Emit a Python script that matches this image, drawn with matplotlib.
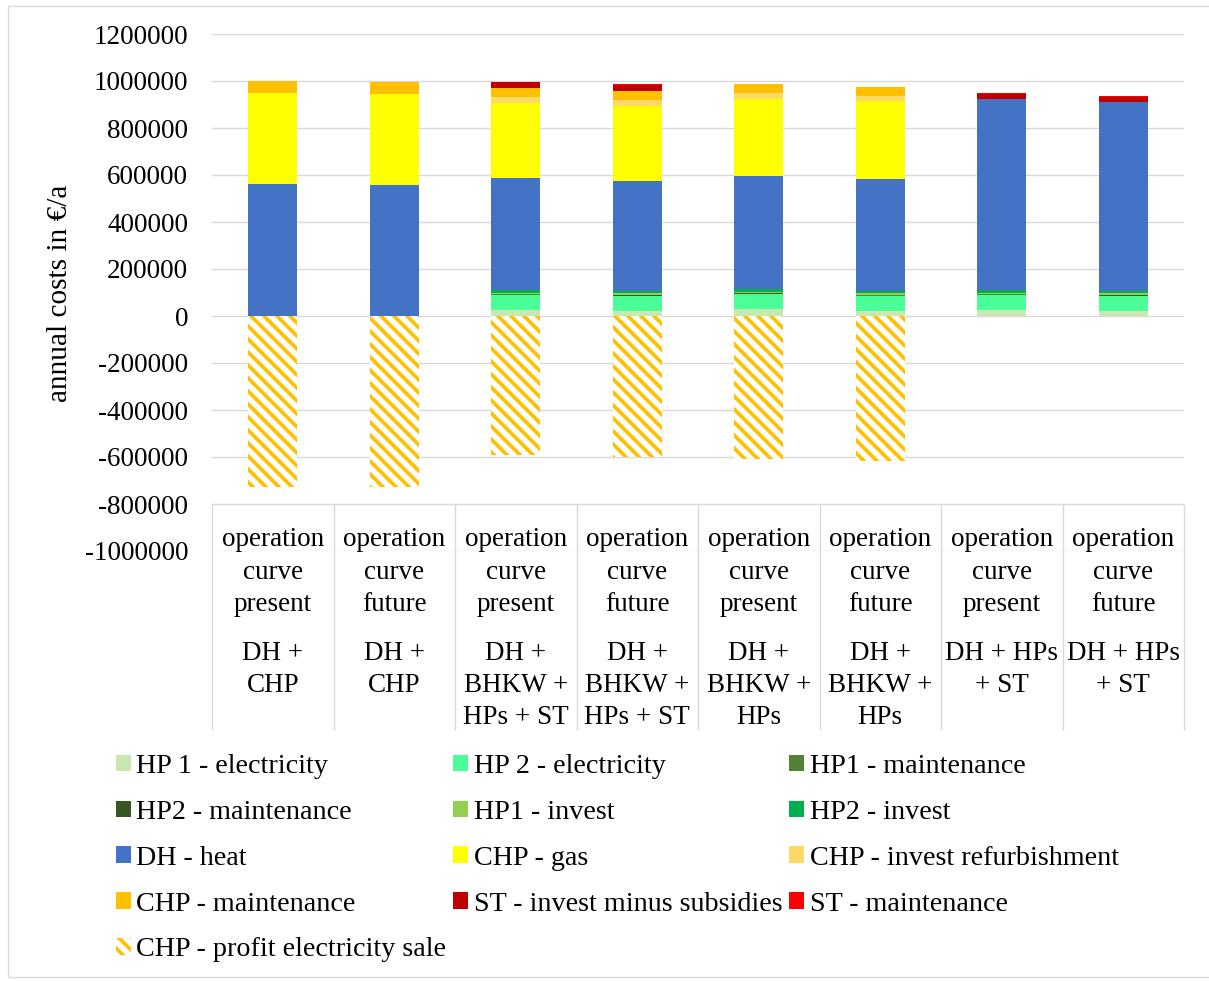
import matplotlib.pyplot as plt
from matplotlib.patches import Rectangle
import numpy as np

# scenario labels: operating curve (upper block) and plant system (lower block)
curves = ["operation\ncurve\npresent", "operation\ncurve\nfuture"] * 4
systems = ["DH +\nCHP", "DH +\nCHP",
           "DH +\nBHKW +\nHPs + ST", "DH +\nBHKW +\nHPs + ST",
           "DH +\nBHKW +\nHPs", "DH +\nBHKW +\nHPs",
           "DH + HPs\n+ ST", "DH + HPs\n+ ST"]

# annual cost components in EUR/a
hp1_electricity = [0, 0, 25500, 21000, 30000, 21000, 25500, 21000]
hp2_electricity = [0, 0, 64000, 64000, 63000, 65000, 64000, 64000]
hp1_maintenance = [0, 0, 2000, 2000, 2000, 2000, 2000, 2000]
hp2_maintenance = [0, 0, 2000, 2000, 2000, 2000, 2000, 2000]
hp1_invest = [0, 0, 5000, 9000, 5000, 9000, 5000, 9000]
hp2_invest = [0, 0, 12000, 7000, 12000, 7000, 12000, 7000]
dh_heat = [560000, 557000, 476000, 469000, 483000, 478000, 811000, 804000]
chp_gas = [388000, 387000, 321000, 321000, 325000, 330000, 0, 0]
chp_refurbishment = [0, 0, 25500, 24000, 25500, 22500, 0, 0]
chp_maintenance = [50000, 53000, 36000, 40000, 40000, 40000, 0, 0]
st_invest = [0, 0, 26000, 25000, 0, 0, 24000, 25000]
st_maintenance = [0, 0, 2000, 2000, 0, 0, 2000, 2000]
chp_profit = [-726000, -728000, -591000, -598000, -610000, -616000, 0, 0]

series = [
    ("HP 1 - electricity", hp1_electricity, "#C9E7B1"),
    ("HP 2 - electricity", hp2_electricity, "#4BFF98"),
    ("HP1 - maintenance", hp1_maintenance, "#548235"),
    ("HP2 - maintenance", hp2_maintenance, "#375623"),
    ("HP1 - invest", hp1_invest, "#92D050"),
    ("HP2 - invest", hp2_invest, "#00B050"),
    ("DH - heat", dh_heat, "#4472C4"),
    ("CHP - gas", chp_gas, "#FFFF00"),
    ("CHP - invest refurbishment", chp_refurbishment, "#FFD966"),
    ("CHP - maintenance", chp_maintenance, "#FFC000"),
    ("ST - invest minus subsidies", st_invest, "#C00000"),
    ("ST - maintenance", st_maintenance, "#FF0000"),
]

W, H, DPI = 1209, 981, 78
plt.rcParams['font.family'] = ['Liberation Serif', 'DejaVu Serif']
plt.rcParams['hatch.linewidth'] = 3.4
FS = 25

fig = plt.figure(figsize=(W / DPI, H / DPI), dpi=DPI)
ax = fig.add_axes([212 / W, 1 - 551 / H, (1184 - 212) / W, (551 - 34) / H])

x = np.arange(len(curves))
width = 0.4
bottom = np.zeros(len(x))
handles = []
for name, vals, color in series:
    vals = np.array(vals, dtype=float)
    h = ax.bar(x, vals, width, bottom=bottom, color=color, label=name, zorder=3)
    bottom += vals
    handles.append(h)

h = ax.bar(x, chp_profit, width, facecolor="white", edgecolor="#FFC000",
           linewidth=0, hatch="\\\\", label="CHP - profit electricity sale", zorder=3)
handles.append(h)

ax.set_xlim(-0.5, len(x) - 0.5)
ax.set_ylim(-1000000, 1200000)
ticks = np.arange(-1000000, 1200001, 200000)
ax.set_yticks(ticks)
ax.set_yticklabels([str(t) for t in ticks], fontsize=FS)
ax.tick_params(axis="y", length=0, pad=22)
ax.set_xticks([])
for s in ax.spines.values():
    s.set_visible(False)
for t in ticks:
    ax.axhline(t, color="#D9D9D9", lw=1.3, zorder=1)

# category table below the zero line
px = (1000000 / 235.0)  # value per pixel
def ypx(p):
    return -(p - 316) * px

ax.vlines(np.arange(len(x) + 1) - 0.5, ypx(730), -800000, color="#D9D9D9",
          lw=1.3, clip_on=False, zorder=1)
base1 = [546, 579, 611]
base2 = [660, 692, 724]
for i in range(len(x)):
    for line, b in zip(curves[i].split("\n"), base1):
        ax.text(i, ypx(b), line, ha="center", va="baseline", fontsize=FS, clip_on=False)
    for line, b in zip(systems[i].split("\n"), base2):
        ax.text(i, ypx(b), line, ha="center", va="baseline", fontsize=FS, clip_on=False)

fig.text(60 / W, 1 - 293 / H, "annual costs in €/a", rotation=90,
         ha="center", va="center", fontsize=27)

# legend, filled row by row in three columns
order = [0, 3, 6, 9, 12, 1, 4, 7, 10, 2, 5, 8, 11]
leg = fig.legend([handles[i] for i in order], [handles[i].get_label() for i in order],
                 ncol=3, loc="upper left", bbox_to_anchor=(116 / W, 1 - 754 / H),
                 frameon=False, fontsize=26, handlelength=0.52, handleheight=0.52,
                 handletextpad=0.2, columnspacing=0.25, labelspacing=0.74,
                 borderpad=0, borderaxespad=0)

fig.add_artist(Rectangle((8 / W, 1 - 977 / H), 1.2, (977 - 6) / H, transform=fig.transFigure,
                         fill=False, edgecolor="#D9D9D9", lw=1.3))

fig.savefig("out.png", dpi=DPI)
